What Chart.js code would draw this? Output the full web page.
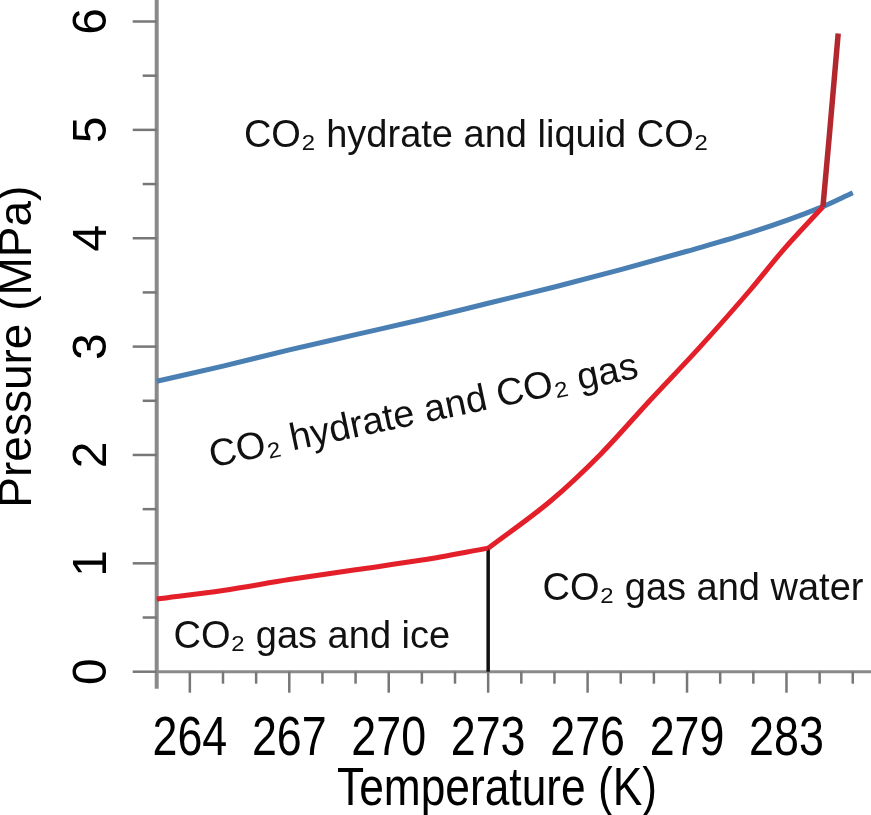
<!DOCTYPE html>
<html>
<head>
<meta charset="utf-8">
<title>CO2 hydrate phase diagram</title>
<script src="https://cdn.jsdelivr.net/npm/chart.js@4.4.1/dist/chart.umd.min.js"></script>
<style>
  html, body { margin: 0; padding: 0; background: #fff; }
  #wrap { width: 871px; height: 815px; }
</style>
</head>
<body>
<div id="wrap"><canvas id="phaseChart" width="871" height="815"></canvas></div>
<script>
// hydrate / liquid CO2 boundary (blue)
const liquidBoundaryT = [263, 265, 267, 269, 271, 273, 275, 277, 279, 281, 283, 284];
const liquidBoundaryP = [2.68, 2.82, 2.97, 3.11, 3.25, 3.40, 3.55, 3.71, 3.88, 4.06, 4.28, 4.42];

// hydrate / gas + ice boundary (red, below 273 K)
const iceBoundaryT = [263, 265, 267, 269, 271, 273];
const iceBoundaryP = [0.67, 0.75, 0.85, 0.94, 1.03, 1.14];

// hydrate / gas + water boundary (red, above 273 K)
const waterBoundaryT = [273, 274.9, 276.4, 277.9, 279.4, 280.9, 281.9, 283.1];
const waterBoundaryP = [1.14, 1.58, 2.01, 2.51, 3.0, 3.52, 3.89, 4.29];

// hydrate / water + liquid CO2 boundary (dark red, above quadruple point)
const upperBoundaryT = [283.1, 283.3, 283.56];
const upperBoundaryP = [4.29, 4.97, 5.89];

// ice / water line at 273 K (black)
const freezeT = [273, 273];
const freezeP = [0, 1.14];

// axis ticks
const tempTicks = [264, 267, 270, 273, 276, 279, 282];
const tempLabels = ['264', '267', '270', '273', '276', '279', '283'];
const pressureTicks = [0, 1, 2, 3, 4, 5, 6];

const regionLabels = [
  { text: 'CO₂ hydrate and liquid CO₂', t: 272.64, p: 4.84, angle: 0 },
  { text: 'CO₂ hydrate and CO₂ gas', t: 271.12, p: 2.30, angle: -11.9 },
  { text: 'CO₂ gas and water', t: 279.48, p: 0.66, angle: 0 },
  { text: 'CO₂ gas and ice', t: 267.68, p: 0.22, angle: 0 }
];

const toPoints = (xs, ys) => xs.map((x, i) => ({ x: x, y: ys[i] }));

const REGULAR = '"Liberation Sans", Arial, Helvetica, sans-serif';

// axis lines, tick marks and the condensed x-axis text
const framePlugin = {
  id: 'frame',
  beforeDatasetsDraw(chart) {
    const { ctx, scales: { x, y } } = chart;
    const x0 = x.getPixelForValue(263);
    const y0 = y.getPixelForValue(0);
    ctx.save();
    ctx.strokeStyle = '#8a8a8a';
    ctx.lineWidth = 4;
    ctx.beginPath();
    ctx.moveTo(x0, 0);
    ctx.lineTo(x0, y0 + 17);
    ctx.stroke();
    ctx.lineWidth = 3;
    ctx.beginPath();
    ctx.moveTo(x0, y0);
    ctx.lineTo(chart.width, y0);
    ctx.stroke();

    ctx.strokeStyle = '#777';
    ctx.lineWidth = 2.5;
    for (let t = 264; t <= 284; t++) {
      const px = x.getPixelForValue(t);
      const len = tempTicks.includes(t) ? 21 : 12;
      ctx.beginPath();
      ctx.moveTo(px, y0);
      ctx.lineTo(px, y0 + len);
      ctx.stroke();
    }
    for (let p = 0; p <= 6; p += 0.5) {
      const py = y.getPixelForValue(p);
      const len = pressureTicks.includes(p) ? 24 : 14;
      ctx.beginPath();
      ctx.moveTo(x0 - len, py);
      ctx.lineTo(x0, py);
      ctx.stroke();
    }
    ctx.restore();
  },
  afterDatasetsDraw(chart) {
    const { ctx, scales: { x, y } } = chart;
    const y0 = y.getPixelForValue(0);
    ctx.save();
    ctx.fillStyle = '#111';
    ctx.font = '38px ' + REGULAR;
    ctx.textAlign = 'center';
    ctx.textBaseline = 'alphabetic';
    regionLabels.forEach(l => {
      ctx.save();
      ctx.translate(x.getPixelForValue(l.t), y.getPixelForValue(l.p));
      ctx.rotate(l.angle * Math.PI / 180);
      ctx.fillText(l.text, 0, 0);
      ctx.restore();
    });

    // x tick labels and title, narrow like the original
    ctx.fillStyle = '#000';
    ctx.font = '56px ' + REGULAR;
    tempTicks.forEach((t, i) => {
      ctx.save();
      ctx.translate(x.getPixelForValue(t), y0 + 83);
      ctx.scale(0.8, 1);
      ctx.fillText(tempLabels[i], 0, 0);
      ctx.restore();
    });
    ctx.font = '54px ' + REGULAR;
    ctx.save();
    ctx.translate(497, y0 + 133);
    ctx.scale(0.82, 1);
    ctx.fillText('Temperature (K)', 0, 0);
    ctx.restore();
    ctx.restore();
  }
};

const line = (data, color, width) => ({
  data: data,
  showLine: true,
  borderColor: color,
  borderWidth: width,
  pointRadius: 0,
  cubicInterpolationMode: 'monotone',
  clip: false
});

new Chart(document.getElementById('phaseChart'), {
  type: 'scatter',
  data: {
    datasets: [
      line(toPoints(upperBoundaryT, upperBoundaryP), '#b3282f', 5.5),
      line(toPoints(waterBoundaryT, waterBoundaryP), '#e3202a', 5),
      line(toPoints(iceBoundaryT, iceBoundaryP), '#e3202a', 5),
      line(toPoints(freezeT, freezeP), '#111111', 3.5),
      line(toPoints(liquidBoundaryT, liquidBoundaryP), '#4a7fb3', 5)
    ]
  },
  options: {
    responsive: false,
    animation: false,
    devicePixelRatio: 1,
    layout: { padding: { top: 21.5, right: 0, left: 0, bottom: 0 } },
    plugins: {
      legend: { display: false },
      tooltip: { enabled: false }
    },
    scales: {
      x: {
        type: 'linear',
        min: 263,
        max: 284.55,
        afterFit: (s) => { s.height = 143.3; s.paddingLeft = 0; s.paddingRight = 0; },
        grid: { display: false, drawTicks: false },
        border: { display: false },
        ticks: { display: false, stepSize: 1 }
      },
      y: {
        type: 'linear',
        min: 0,
        max: 6,
        afterFit: (s) => { s.width = 156.7; s.paddingTop = 0; s.paddingBottom = 0; },
        grid: { display: false, drawTicks: false },
        border: { display: false },
        ticks: {
          stepSize: 0.5,
          autoSkip: false,
          minRotation: 90,
          maxRotation: 90,
          crossAlign: 'center',
          padding: 51,
          color: '#000',
          font: { family: REGULAR, size: 48 },
          callback: (v) => pressureTicks.includes(v) ? String(v) : ''
        },
        title: {
          display: true,
          text: 'Pressure (MPa)',
          color: '#000',
          font: { family: REGULAR, size: 46, lineHeight: 0.8 },
          padding: 0
        }
      }
    }
  },
  plugins: [framePlugin]
});
</script>
</body>
</html>
